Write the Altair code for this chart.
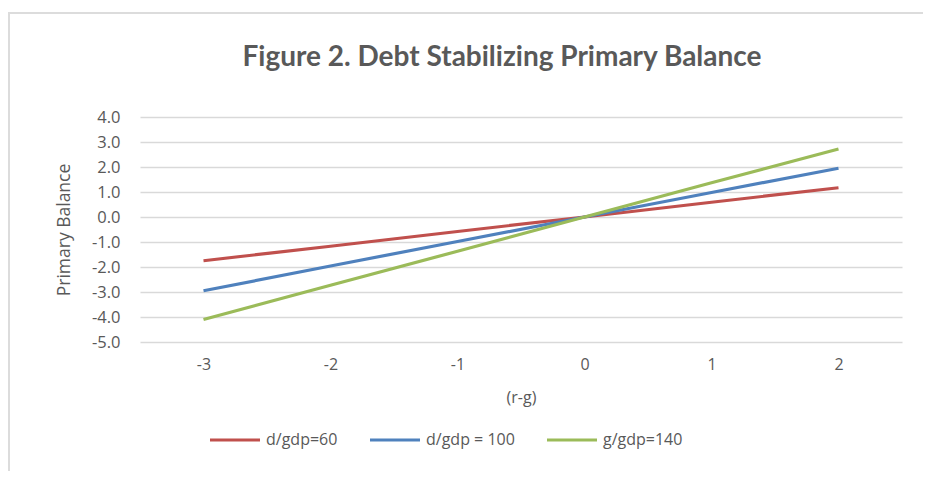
import altair as alt
import pandas as pd

# ---- data ----
rg = [-3, -2, -1, 0, 1, 2]
series = ["d/gdp=60", "d/gdp = 100", "g/gdp=140"]
pb_60 = [-1.75, -1.17, -0.58, 0.0, 0.59, 1.17]
pb_100 = [-2.95, -1.96, -0.98, 0.0, 0.98, 1.95]
pb_140 = [-4.10, -2.73, -1.37, 0.0, 1.37, 2.72]
colors = ["#C0504D", "#4F81BD", "#9BBB59"]
y_ticks = [-5, -4, -3, -2, -1, 0, 1, 2, 3, 4]
title_text = "Figure 2. Debt Stabilizing Primary Balance"

rows = []
for name, vals in zip(series, [pb_60, pb_100, pb_140]):
    for x, v in zip(rg, vals):
        rows.append({"rg": str(x), "pb": v, "series": name})
df = pd.DataFrame(rows)

FONT = "Open Sans"
GREY = "#595959"
W, H = 762, 225

lines = alt.Chart(df).mark_line(strokeWidth=3.2).encode(
    x=alt.X(
        "rg:O",
        sort=[str(x) for x in rg],
        title="(r-g)",
        axis=alt.Axis(
            labelAngle=0, labelPadding=14, ticks=False, domain=False, grid=False,
            labelFont=FONT, labelFontSize=16, labelColor=GREY,
            titleFont=FONT, titleFontSize=16, titleColor=GREY, titleFontWeight="normal",
            titleY=55, titleBaseline="middle",
        ),
    ),
    y=alt.Y(
        "pb:Q",
        scale=alt.Scale(domain=[-5, 4], nice=False, zero=False),
        title="Primary Balance",
        axis=alt.Axis(
            values=y_ticks, ticks=False, domain=False, grid=True,
            gridColor="#d9d9d9", gridWidth=1.5, labelPadding=20,
            labelExpr="datum.value < 0 ? '-' + format(-datum.value, '.1f') : format(datum.value, '.1f')",
            labelFont=FONT, labelFontSize=16.5, labelColor=GREY,
            titleFont=FONT, titleFontSize=17.5, titleColor=GREY, titleFontWeight="normal",
            titleX=-76, titleY=H / 2, titleBaseline="middle", titleAlign="center", titleAngle=-90,
        ),
    ),
    color=alt.Color(
        "series:N",
        scale=alt.Scale(domain=series, range=colors),
        legend=alt.Legend(
            title=None, orient="none", legendX=68, legendY=296, direction="horizontal",
            symbolType="stroke", symbolSize=2500, symbolStrokeWidth=3.2,
            labelFont=FONT, labelFontSize=16, labelColor=GREY,
            columnPadding=25, labelOffset=4,
        ),
    ),
)

one = alt.Data(values=[{"k": 1}])
top_line = alt.Chart(one).mark_rule(color="#dcdcdc", strokeWidth=2).encode(
    x=alt.value(-132), x2=alt.value(792), y=alt.value(-104)
)
left_line = alt.Chart(one).mark_rule(color="#dcdcdc", strokeWidth=2).encode(
    x=alt.value(-131), y=alt.value(-105), y2=alt.value(365)
)
title = alt.Chart(one).mark_text(
    text=title_text, font="Lato", fontSize=28, fontWeight="bold", color=GREY,
    align="center", baseline="alphabetic",
).encode(x=alt.value(362), y=alt.value(-51))

chart = alt.layer(top_line, left_line, title, lines).properties(
    width=W,
    height=H,
    autosize=alt.AutoSizeParams(type="none"),
    padding={"left": 132, "top": 109, "right": 21, "bottom": 129},
).configure_view(stroke=None)

chart.save("out.html", embed_options={"renderer": "svg", "actions": False})
